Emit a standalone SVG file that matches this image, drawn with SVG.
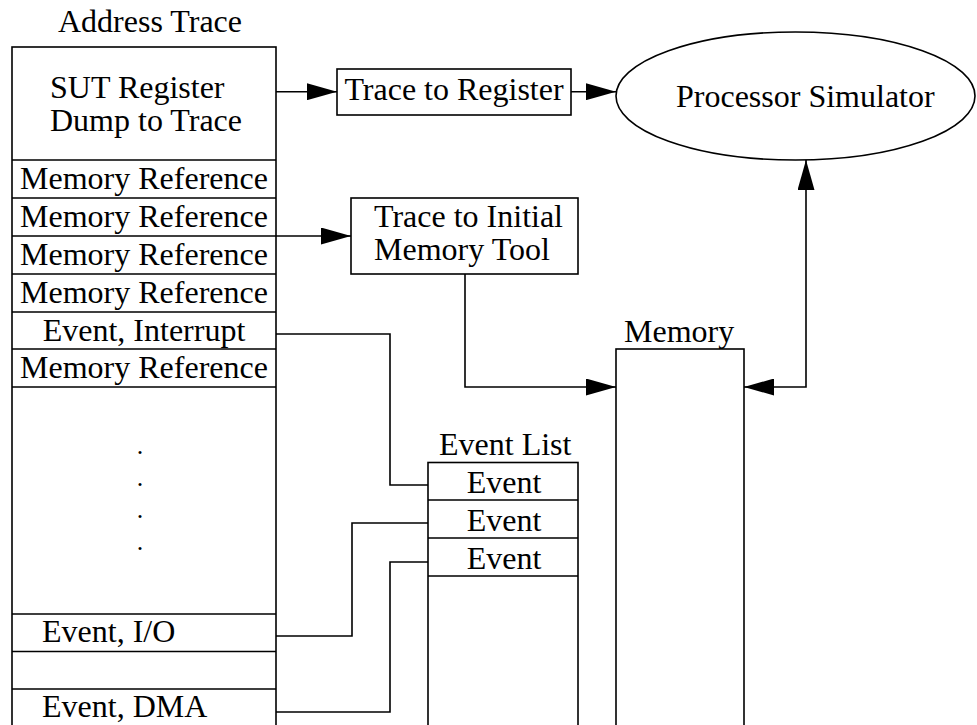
<svg xmlns="http://www.w3.org/2000/svg" width="977" height="725" viewBox="0 0 977 725">
  <style>
    .box { fill: #ffffff; stroke: #000000; stroke-width: 1.6; }
    .sep { stroke: #000000; stroke-width: 1.6; fill: none; }
    .t { font-family: "Liberation Serif", "Times New Roman", serif; font-size: 32px; fill: #000000; }
    .c { text-anchor: middle; }
    .dot { font-family: "Liberation Serif", "Times New Roman", serif; font-size: 26px; fill: #000000; text-anchor: middle; }
    .wire { fill: none; stroke: #000000; stroke-width: 1.6; }
  </style>
  <defs>
    <marker id="arrow" markerUnits="userSpaceOnUse" markerWidth="30" markerHeight="17" refX="30" refY="8.5" orient="auto-start-reverse" viewBox="0 0 30 17">
      <path d="M0,0 L30,8.5 L0,17 Z" fill="#000000"/>
    </marker>
  </defs>
  <rect width="977" height="725" fill="#ffffff"/>

  <g id="address-trace">
    <text class="t" x="58" y="32">Address Trace</text>
    <rect class="box" x="12" y="47" width="264" height="690"/>
    <path class="sep" d="M12,160H276 M12,198H276 M12,236H276 M12,274H276 M12,312H276 M12,349H276 M12,387H276 M12,614H276 M12,651.5H276 M12,689H276"/>
    <text class="t" x="50" y="98">SUT Register</text>
    <text class="t" x="50" y="131">Dump to Trace</text>
    <text class="t c" x="144" y="189">Memory Reference</text>
    <text class="t c" x="144" y="227">Memory Reference</text>
    <text class="t c" x="144" y="265">Memory Reference</text>
    <text class="t c" x="144" y="303">Memory Reference</text>
    <text class="t c" x="144" y="341">Event, Interrupt</text>
    <text class="t c" x="144" y="378">Memory Reference</text>
    <text class="dot" x="140" y="454">.</text>
    <text class="dot" x="140" y="486">.</text>
    <text class="dot" x="140" y="518">.</text>
    <text class="dot" x="140" y="550">.</text>
    <text class="t" x="42" y="642">Event, I/O</text>
    <text class="t" x="42" y="717">Event, DMA</text>
  </g>

  <g id="trace-to-register">
    <rect class="box" x="337" y="69" width="234" height="46"/>
    <text class="t c" x="454" y="100">Trace to Register</text>
  </g>

  <g id="processor-simulator">
    <ellipse class="box" cx="795.5" cy="96" rx="179.5" ry="64"/>
    <text class="t" x="676" y="107">Processor Simulator</text>
  </g>

  <g id="trace-to-initial-memory-tool">
    <rect class="box" x="351" y="198" width="227" height="76"/>
    <text class="t" x="374" y="227">Trace to Initial</text>
    <text class="t" x="374" y="260">Memory Tool</text>
  </g>

  <g id="memory">
    <text class="t" x="624" y="342">Memory</text>
    <rect class="box" x="616" y="349" width="128" height="390"/>
  </g>

  <g id="event-list">
    <text class="t" x="439" y="455">Event List</text>
    <rect class="box" x="428" y="462.5" width="150" height="280"/>
    <path class="sep" d="M428,500H578 M428,538H578 M428,576H578"/>
    <text class="t c" x="504" y="493">Event</text>
    <text class="t c" x="504" y="531">Event</text>
    <text class="t c" x="504" y="569">Event</text>
  </g>

  <g id="connectors">
    <path class="wire" d="M276,91.7H337" marker-end="url(#arrow)"/>
    <path class="wire" d="M571,91.7H616" marker-end="url(#arrow)"/>
    <path class="wire" d="M276,236H351" marker-end="url(#arrow)"/>
    <path class="wire" d="M465,274V387H616" marker-end="url(#arrow)"/>
    <path class="wire" d="M744,387H806V160" marker-start="url(#arrow)" marker-end="url(#arrow)"/>
    <path class="wire" d="M276,334H390V485H428"/>
    <path class="wire" d="M276,636H352V523H428"/>
    <path class="wire" d="M276,712H390V562H428"/>
  </g>
</svg>
